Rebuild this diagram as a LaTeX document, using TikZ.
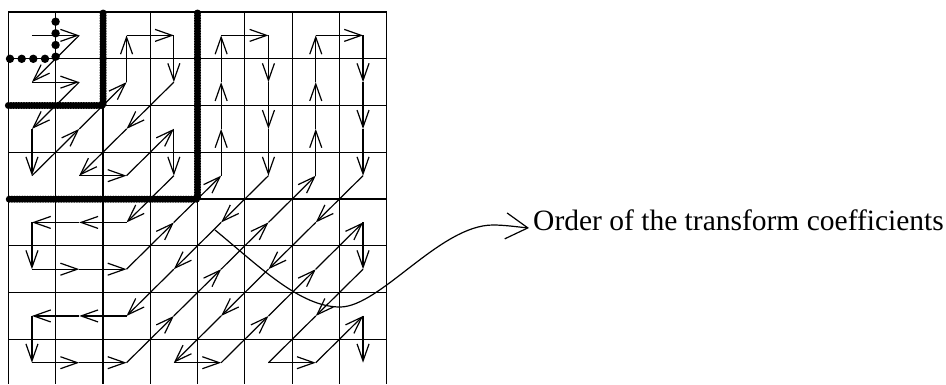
\documentclass[tikz,border=0pt]{standalone}
\usepackage{fontspec}
\setmainfont{Liberation Serif}
\usetikzlibrary{arrows.meta}
\begin{document}
\begin{tikzpicture}[x=1bp,y=-1bp,
  gridline/.style={line width=1.2bp, black},
  flow/.style={line width=1.2bp, -{Straight Barb[length=17bp,width=12bp,line width=1.2bp]}},
  plainflow/.style={line width=1.2bp},
  thickborder/.style={line width=7bp, line cap=round, line join=round, dash pattern=on 0bp off 2.6bp},
  bigdot/.style={fill=black},
  callout/.style={line width=1.2bp, -{Straight Barb[length=22bp,width=26bp,line width=1.2bp]}},
  labeltext/.style={inner sep=0pt, anchor=base west, font=\fontsize{29.5bp}{35bp}\selectfont}]
\useasboundingbox (0,0) rectangle (946,384);
\fill[white] (0,0) rectangle (946,384);
% grid
\foreach \k in {0,...,8} \draw[gridline] ({8.3+47.3*\k},12) -- ({8.3+47.3*\k},384);
\foreach \k in {0,...,7} \draw[gridline] (8.3,{12+46.76*\k}) -- (386.7,{12+46.76*\k});
% cell centres
\foreach \i in {0,...,7} \foreach \j in {0,...,7}
  \coordinate (c-\i-\j) at ({31.95+47.3*\i},{35.38+46.76*\j});
% borders
\draw[thickborder] (103.1,13) -- (103.1,105.5) -- (8.3,105.5);
\draw[thickborder] (197.5,13) -- (197.5,199.2) -- (8.3,199.2);
\foreach \y in {21.7,33.3,45,56.7} \fill[bigdot] (55.6,\y) circle[radius=4.2bp];
\foreach \x in {10,21.7,33.3,45} \fill[bigdot] (\x,58.8) circle[radius=4.2bp];
% scan order
\foreach \a/\b in {0-0/1-0, 1-0/0-1, 0-1/1-1, 1-1/0-2, 0-2/0-3, 0-3/1-2, 1-2/2-1,
  2-1/2-0, 2-0/3-0, 3-0/3-1, 3-1/2-2, 2-2/1-3, 1-3/2-3, 2-3/3-2, 3-2/3-3,
  3-3/2-4, 2-4/1-4, 1-4/0-4, 0-4/0-5, 0-5/1-5, 1-5/2-5, 2-5/3-4, 3-4/4-3,
  4-3/4-2, 4-2/4-1, 4-1/4-0, 4-0/5-0, 5-0/5-1, 5-1/5-2, 5-2/5-3, 5-3/4-4,
  4-4/3-5, 3-5/2-6, 2-6/1-6, 1-6/0-6, 0-6/0-7, 0-7/1-7, 1-7/2-7, 2-7/3-6,
  3-6/4-5, 4-5/5-4, 5-4/6-3, 6-3/6-2, 6-2/6-1, 6-1/6-0, 6-0/7-0, 7-0/7-1,
  7-1/7-2, 7-2/7-3, 7-3/6-4, 6-4/5-5, 5-5/4-6, 4-6/3-7, 3-7/4-7, 4-7/5-6,
  5-6/6-5, 6-5/7-4, 7-4/7-5, 7-5/6-6, 5-7/6-7, 6-7/7-6, 7-6/7-7}
  \draw[flow] (c-\a) -- (c-\b);
\draw[plainflow] (c-6-6) -- (c-5-7);
% label
\node[labeltext] (label) at (533,230) {Order of the transform coefficients};
\coordinate (curvestart) at (215,230);
\coordinate (curvelow) at (340,307);
\coordinate (curvehigh) at (493,225);
\coordinate (arrowtip) at (529,228);
\draw[callout] (curvestart) .. controls (260,267) and (300,307) .. (curvelow)
  .. controls (380,307) and (440,225) .. (curvehigh)
  .. controls (505,225) and (518,227) .. (arrowtip);
\end{tikzpicture}
\end{document}
